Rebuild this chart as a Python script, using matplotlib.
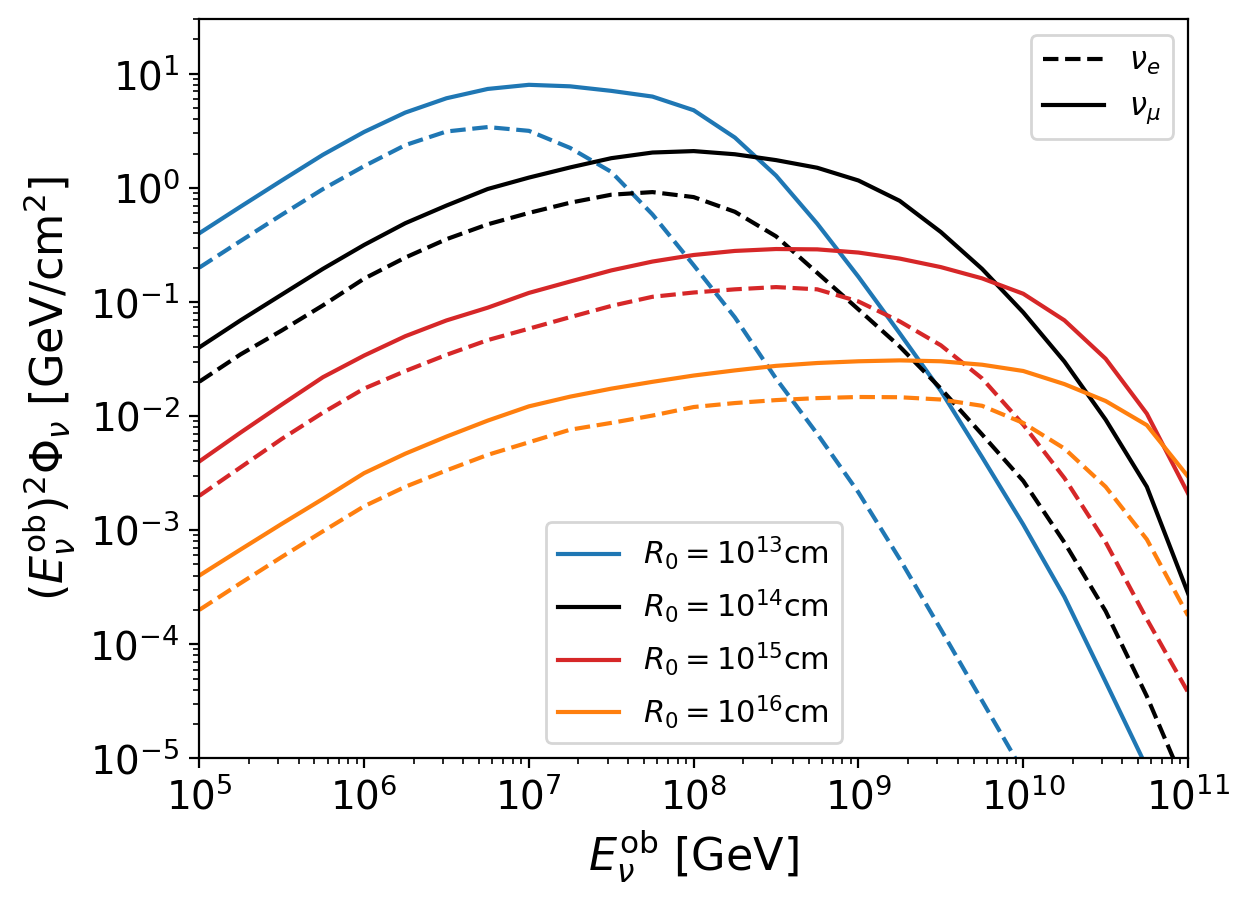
import numpy as np
import matplotlib
matplotlib.use('Agg')
import matplotlib.pyplot as plt
from matplotlib.lines import Line2D

# observed neutrino energy grid [GeV], quarter-decade steps
E = 10 ** np.array([5.0, 5.25, 5.5, 5.75, 6.0, 6.25, 6.5, 6.75, 7.0, 7.25, 7.5, 7.75,
                    8.0, 8.25, 8.5, 8.75, 9.0, 9.25, 9.5, 9.75, 10.0, 10.25, 10.5, 10.75, 11.0])

# (E^ob)^2 Phi [GeV/cm^2]
R13_mu = [0.40, 0.684, 1.16, 1.95, 3.09, 4.57, 6.10, 7.36, 8.0, 7.76, 7.08, 6.31,
          4.79, 2.76, 1.28, 0.485, 0.166, 0.0532, 0.0166, 0.00437, 0.00112, 2.6e-4, 4.68e-5, 8.3e-6]
R13_e = [0.20, 0.342, 0.581, 0.975, 1.55, 2.37, 3.12, 3.41, 3.16, 2.24, 1.38, 0.585,
         0.21, 0.0733, 0.0213, 0.00698, 0.00214, 5.6e-4, 1.35e-4, 3.2e-5, 7.6e-6]
R14_mu = [0.040, 0.069, 0.116, 0.195, 0.316, 0.49, 0.70, 0.977, 1.23, 1.51, 1.82, 2.04,
          2.10, 1.97, 1.75, 1.50, 1.16, 0.77, 0.41, 0.195, 0.081, 0.030, 0.0093, 0.0024, 2.8e-4]
R14_e = [0.020, 0.0347, 0.0562, 0.0933, 0.160, 0.245, 0.355, 0.479, 0.603, 0.741, 0.871, 0.918,
         0.83, 0.617, 0.376, 0.180, 0.086, 0.0407, 0.0174, 0.0069, 0.0027, 7.8e-4, 1.95e-4, 3.5e-5, 5.0e-6]
R15_mu = [0.0040, 0.00716, 0.0126, 0.0219, 0.0339, 0.0501, 0.0689, 0.0891, 0.120, 0.151, 0.189, 0.226,
          0.258, 0.280, 0.291, 0.289, 0.271, 0.240, 0.202, 0.161, 0.118, 0.069, 0.0318, 0.0105, 0.0021]
R15_e = [0.0020, 0.00355, 0.0063, 0.0107, 0.0174, 0.0248, 0.0344, 0.0463, 0.0583, 0.0736, 0.0923, 0.111,
         0.121, 0.129, 0.135, 0.129, 0.101, 0.0676, 0.0417, 0.0214, 0.0084, 0.00286, 7.85e-4, 1.66e-4, 3.8e-5]
R16_mu = [4.0e-4, 6.76e-4, 1.135e-3, 1.88e-3, 3.16e-3, 4.68e-3, 6.61e-3, 9.12e-3, 0.01216, 0.01479, 0.01738, 0.01995,
          0.02265, 0.02512, 0.02754, 0.02917, 0.0302, 0.03076, 0.0302, 0.02818, 0.02483, 0.01905, 0.01355, 0.00832, 0.00295]
R16_e = [2.0e-4, 3.43e-4, 5.82e-4, 9.77e-4, 1.62e-3, 2.40e-3, 3.34e-3, 4.57e-3, 5.89e-3, 7.59e-3, 8.71e-3, 0.0101,
         0.0120, 0.0130, 0.0138, 0.01436, 0.01469, 0.01462, 0.01396, 0.0123, 0.0087, 0.00519, 0.0024, 8.3e-4, 1.78e-4]

SERIES = [
    ('$R_0=10^{13}$cm', '#1f77b4', R13_mu, R13_e),
    ('$R_0=10^{14}$cm', 'k', R14_mu, R14_e),
    ('$R_0=10^{15}$cm', '#d62728', R15_mu, R15_e),
    ('$R_0=10^{16}$cm', '#ff7f0e', R16_mu, R16_e),
]

fig = plt.figure(figsize=(6.26, 4.535), dpi=200)
ax = fig.add_axes([0.1592, 0.1639, 0.7897, 0.8148])

color_handles = []
for label, color, mu, e in SERIES:
    ax.loglog(E[:len(mu)], mu, '-', color=color)
    ax.loglog(E[:len(e)], e, '--', color=color)
    color_handles.append(Line2D([], [], color=color, label=label))

ax.set_xlim(1e5, 1e11)
ax.set_ylim(1e-5, 3e1)
ax.set_xlabel(r'$E_\nu^{\rm ob}$ [GeV]', fontsize=16)
ax.set_ylabel(r'$(E_\nu^{\rm ob})^2\Phi_\nu$ [GeV/cm$^2$]', fontsize=16)
ax.tick_params(axis='both', which='major', labelsize=14)

flavor_handles = [Line2D([], [], color='k', ls='--', label=r'$\nu_e$'),
                  Line2D([], [], color='k', ls='-', label=r'$\nu_\mu$')]
leg1 = ax.legend(handles=flavor_handles, loc='upper right', fontsize=11)
ax.add_artist(leg1)
ax.legend(handles=color_handles, loc='lower center', fontsize=11)

fig.savefig('out.png', dpi=200)
